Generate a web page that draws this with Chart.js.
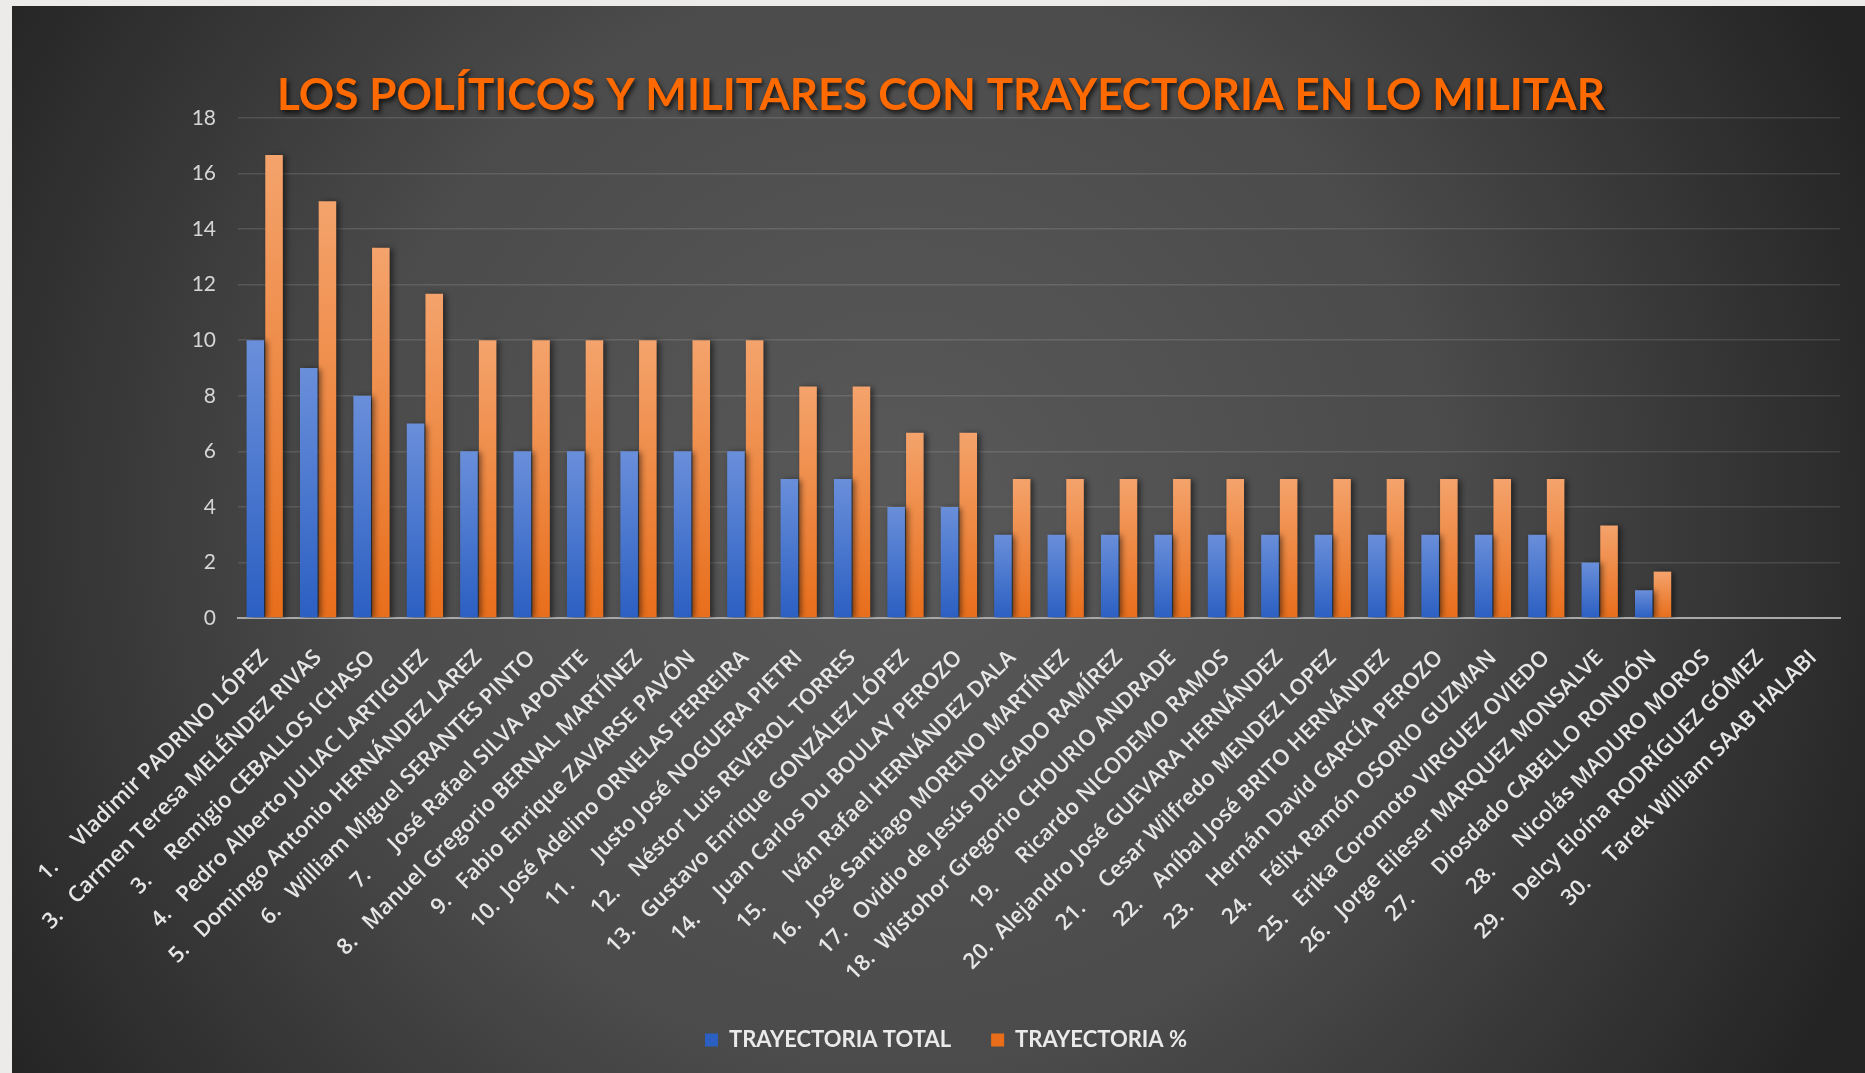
<!DOCTYPE html>
<html><head><meta charset="utf-8">
<script src="https://cdn.jsdelivr.net/npm/chart.js@4.4.0/dist/chart.umd.min.js"></script>
<style>html,body{margin:0;padding:0;background:#ececea;overflow:hidden}#wrap{width:1865px;height:1073px;position:relative}canvas{display:block}</style>
</head><body><div id="wrap"><canvas id="c" width="1865" height="1073"></canvas></div>
<script>
const chartTitle = 'LOS POLÍTICOS Y MILITARES CON TRAYECTORIA EN LO MILITAR';
const seriesNames = ['TRAYECTORIA TOTAL', 'TRAYECTORIA %'];
const categories = [
  '1.     Vladimir PADRINO LÓPEZ',
  '3.   Carmen Teresa MELÉNDEZ RIVAS',
  '3.     Remigio CEBALLOS ICHASO',
  '4.   Pedro Alberto JULIAC LARTIGUEZ',
  '5.   Domingo Antonio HERNÁNDEZ LAREZ',
  '6.   William Miguel SERANTES PINTO',
  '7.      José Rafael SILVA APONTE',
  '8.   Manuel Gregorio BERNAL MARTÍNEZ',
  '9.   Fabio Enrique ZAVARSE PAVÓN',
  '10.  José Adelino ORNELAS FERREIRA',
  '11.      Justo José NOGUERA PIETRI',
  '12.    Néstor Luis REVEROL TORRES',
  '13.   Gustavo Enrique GONZÁLEZ LÓPEZ',
  '14.     Juan Carlos Du BOULAY PEROZO',
  '15.      Iván Rafael HERNÁNDEZ DALA',
  '16.   José Santiago MORENO MARTÍNEZ',
  '17.   Ovidio de Jesús DELGADO RAMÍREZ',
  '18.  Wistohor Gregorio CHOURIO ANDRADE',
  '19.      Ricardo NICODEMO RAMOS',
  '20.  Alejandro José GUEVARA HERNÁNDEZ',
  '21.     Cesar Wilfredo MENDEZ LOPEZ',
  '22.    Aníbal José BRITO HERNÁNDEZ',
  '23.     Hernán David GARCÍA PEROZO',
  '24.    Félix Ramón OSORIO GUZMAN',
  '25.   Erika Coromoto VIRGUEZ OVIEDO',
  '26.   Jorge Elieser MARQUEZ MONSALVE',
  '27.      Diosdado CABELLO RONDÓN',
  '28.      Nicolás MADURO MOROS',
  '29.    Delcy Eloína RODRÍGUEZ GÓMEZ',
  '30.     Tarek William SAAB HALABI'
];
const trayectoriaTotal = [10, 9, 8, 7, 6, 6, 6, 6, 6, 6, 5, 5, 4, 4, 3, 3, 3, 3, 3, 3, 3, 3, 3, 3, 3, 2, 1, 0, 0, 0];
const trayectoriaPct = [16.67, 15, 13.33, 11.67, 10, 10, 10, 10, 10, 10, 8.33, 8.33, 6.67, 6.67, 5, 5, 5, 5, 5, 5, 5, 5, 5, 5, 5, 3.33, 1.67, 0, 0, 0];
const yTicks = [0, 2, 4, 6, 8, 10, 12, 14, 16, 18];

function barGradient(topColor, bottomColor) {
  return (ctx) => {
    const chart = ctx.chart;
    const ys = chart.scales && chart.scales.y;
    if (!ys || !ctx.parsed) return bottomColor;
    const yTop = ys.getPixelForValue(ctx.parsed.y);
    const yBot = ys.getPixelForValue(0);
    if (!isFinite(yTop) || !isFinite(yBot) || Math.abs(yBot - yTop) < 1) return bottomColor;
    const g = chart.ctx.createLinearGradient(0, yTop, 0, yBot);
    g.addColorStop(0, topColor);
    g.addColorStop(1, bottomColor);
    return g;
  };
}

function patchDraw(box, dx, shadow) {
  if (!box || box._patched) return;
  const orig = box.draw.bind(box);
  box.draw = function () {
    const c = this.ctx;
    c.save();
    c.translate(dx, 0);
    if (shadow) {
      c.shadowColor = 'rgba(0,0,0,0.75)';
      c.shadowBlur = 5;
      c.shadowOffsetX = 2;
      c.shadowOffsetY = 3;
    }
    orig();
    c.restore();
  };
  box._patched = true;
}

const bgPlugin = {
  id: 'bg',
  beforeDraw(chart) {
    const c = chart.ctx;
    c.save();
    c.fillStyle = '#ecebe9';
    c.fillRect(0, 0, chart.width, chart.height);
    const g = c.createRadialGradient(900, 520, 50, 900, 520, 1050);
    g.addColorStop(0, '#585858');
    g.addColorStop(0.5, '#4b4b4b');
    g.addColorStop(1, '#242424');
    c.fillStyle = g;
    c.fillRect(12, 6, chart.width - 12, chart.height - 6);
    c.restore();
  },
  afterLayout(chart) {
    patchDraw(chart.titleBlock, 15, true);
    patchDraw(chart.legend, 20, false);
  },
  beforeDatasetsDraw(chart) {
    const c = chart.ctx;
    c.save();
    c.shadowColor = 'rgba(0,0,0,0.55)';
    c.shadowBlur = 6;
    c.shadowOffsetX = 3;
    c.shadowOffsetY = 1;
  },
  afterDatasetsDraw(chart) {
    chart.ctx.restore();
  }
};

new Chart(document.getElementById('c'), {
  type: 'bar',
  data: {
    labels: categories,
    datasets: [
      { label: seriesNames[0], data: trayectoriaTotal, backgroundColor: barGradient('#6a8fda', '#2b5fc2'), borderWidth: 0 },
      { label: seriesNames[1], data: trayectoriaPct, backgroundColor: barGradient('#f4a36c', '#e86e1b'), borderWidth: 0 }
    ]
  },
  options: {
    responsive: false,
    devicePixelRatio: 1,
    animation: false,
    datasets: { bar: { categoryPercentage: 0.7, barPercentage: 0.94 } },
    layout: { padding: { left: 12, right: 25, top: 0, bottom: 12 } },
    plugins: {
      title: {
        display: true, text: chartTitle, color: '#ff6a00',
        font: { family: 'Lato', size: 44, weight: 'bold', lineHeight: 1 },
        padding: { top: 74, bottom: 0 }
      },
      legend: {
        position: 'bottom',
        labels: {
          color: '#eaeaea', boxWidth: 13, boxHeight: 13, padding: 40,
          font: { family: 'Lato', size: 22, weight: 'bold' }
        }
      },
      tooltip: { enabled: false }
    },
    scales: {
      x: {
        grid: { display: false },
        border: { display: true, color: '#a9a9a9', width: 2 },
        ticks: {
          autoSkip: false, maxRotation: 45, minRotation: 45, padding: 19,
          color: '#e6e6e6', font: { family: 'Open Sans', size: 22, weight: 600 }
        },
        afterFit(scale) { scale.height = 371; }
      },
      y: {
        min: 0, max: 18,
        afterBuildTicks(scale) { scale.ticks = yTicks.map(v => ({ value: v })); },
        grid: { color: 'rgba(255,255,255,0.12)', lineWidth: 1.5, drawTicks: false },
        border: { display: false },
        ticks: { padding: 22, color: '#d6d6d6', font: { family: 'Lato', size: 21 } },
        afterFit(scale) { scale.width = 226; }
      }
    }
  },
  plugins: [bgPlugin]
});
</script>
</body></html>
